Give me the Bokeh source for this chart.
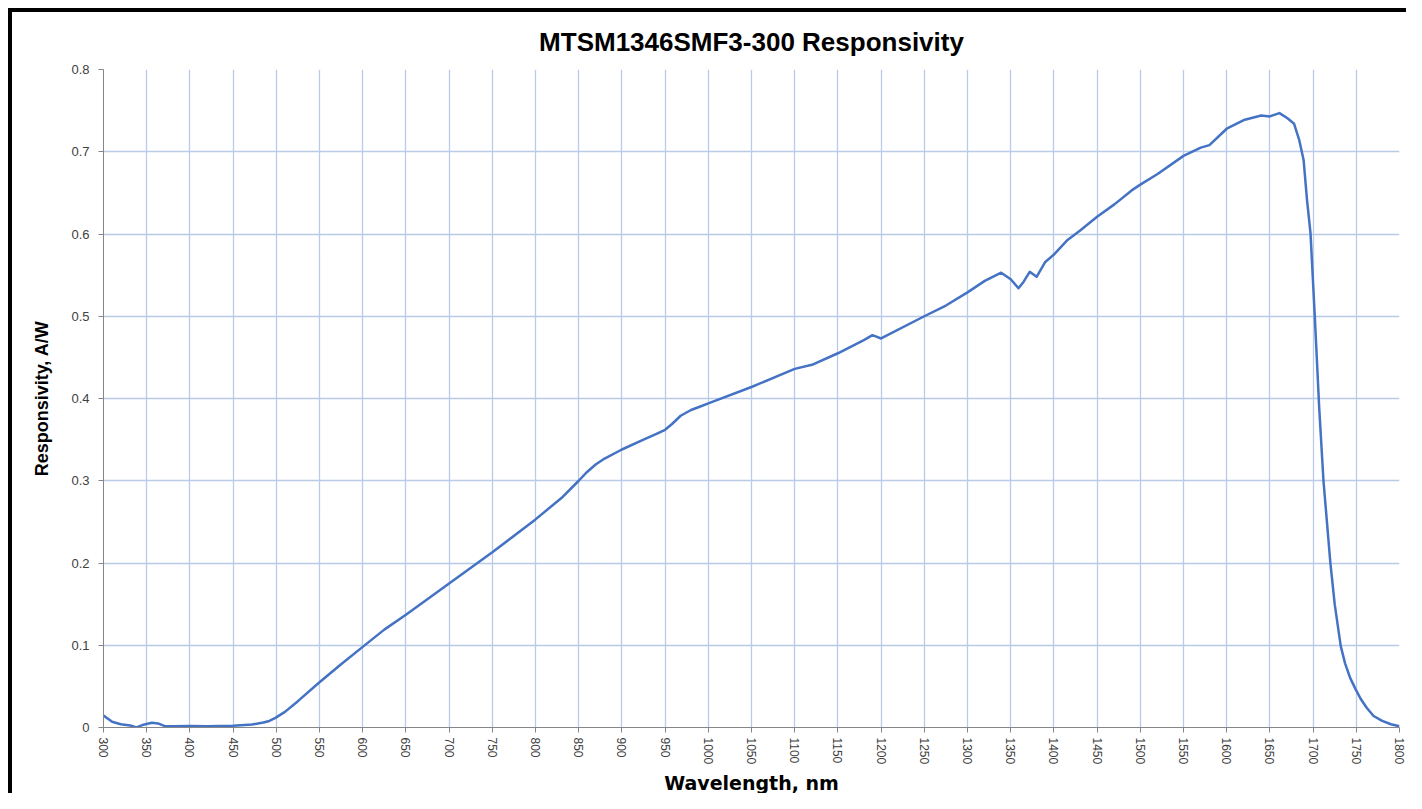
from bokeh.plotting import figure
from bokeh.models import FixedTicker, ColumnDataSource, Title
from bokeh.embed import file_html
from bokeh.resources import INLINE

wavelength = [300, 310, 320, 331, 338, 345, 356, 363, 371, 380, 400, 420, 450, 472, 485, 492, 499,
              510, 525, 550, 575, 600, 625, 650, 700, 750, 800, 830, 850, 860, 870, 880, 900, 925,
              940, 950, 958, 968, 980, 990, 1000, 1050, 1100, 1120, 1150, 1180, 1190, 1200, 1250,
              1275, 1300, 1320, 1339, 1350, 1359, 1365, 1372, 1380, 1390, 1400, 1415, 1430, 1450,
              1470, 1490, 1500, 1520, 1550, 1570, 1580, 1600, 1621, 1640, 1650, 1661, 1670, 1678,
              1684, 1689, 1693, 1697, 1702, 1707, 1712, 1720, 1725, 1732, 1737, 1743, 1749, 1755,
              1762, 1770, 1780, 1790, 1800]
responsivity = [0.0146, 0.007, 0.004, 0.0024, 0.0, 0.003, 0.0057, 0.005, 0.0016, 0.0015, 0.0018,
                0.0015, 0.002, 0.0036, 0.006, 0.008, 0.0117, 0.019, 0.032, 0.055, 0.077, 0.098,
                0.119, 0.137, 0.175, 0.213, 0.253, 0.279, 0.300, 0.311, 0.320, 0.327, 0.338, 0.350,
                0.357, 0.362, 0.369, 0.379, 0.386, 0.390, 0.394, 0.414, 0.436, 0.441, 0.455, 0.471,
                0.477, 0.473, 0.500, 0.513, 0.529, 0.543, 0.553, 0.545, 0.534, 0.542, 0.554, 0.548,
                0.566, 0.575, 0.592, 0.604, 0.621, 0.636, 0.653, 0.660, 0.673, 0.695, 0.705, 0.708,
                0.728, 0.739, 0.744, 0.743, 0.747, 0.741, 0.734, 0.714, 0.690, 0.641, 0.601, 0.499,
                0.390, 0.300, 0.200, 0.150, 0.099, 0.078, 0.060, 0.047, 0.035, 0.024, 0.014, 0.008,
                0.004, 0.0016]

x_ticks = list(range(300, 1801, 50))
y_ticks = [0, 0.1, 0.2, 0.3, 0.4, 0.5, 0.6, 0.7, 0.8]
y_labels = ["0", "0.1", "0.2", "0.3", "0.4", "0.5", "0.6", "0.7", "0.8"]

title_text = "MTSM1346SMF3-300 Responsivity"
x_label = "Wavelength, nm"
y_label = "Responsivity, A/W"

src = ColumnDataSource(dict(x=wavelength, y=responsivity))

p = figure(width=1398, height=785, output_backend="svg", toolbar_location=None,
           x_range=(300, 1800), y_range=(0, 0.8),
           min_border_left=91, min_border_right=11, min_border_top=57, min_border_bottom=67)
p.styles = {"margin-left": "8px", "margin-top": "8px",
            "border-top": "4px solid black", "border-left": "4px solid black"}

t = Title(text=title_text, align="center", text_font="Liberation Sans",
          text_font_size="26px", text_font_style="bold", text_color="#000000", standoff=25)
p.add_layout(t, "above")

p.line("x", "y", source=src, line_color="#4472C4", line_width=2.5, line_join="round")

p.outline_line_color = None
p.background_fill_color = "white"
p.border_fill_color = "white"

p.xaxis.ticker = FixedTicker(ticks=x_ticks)
p.yaxis.ticker = FixedTicker(ticks=y_ticks)
p.yaxis.major_label_overrides = {v: s for v, s in zip(y_ticks, y_labels)}
p.xaxis.major_label_orientation = "vertical"

for ax in (p.xaxis, p.yaxis):
    ax.axis_line_color = "#868686"
    ax.axis_line_width = 1
    ax.major_tick_line_color = "#868686"
    ax.major_tick_out = 5
    ax.major_tick_in = 0
    ax.minor_tick_line_color = None
    ax.major_label_text_font = "Liberation Sans"
    ax.major_label_text_color = "#404040"

p.xaxis.major_label_text_font_size = "12px"
p.xaxis.major_label_standoff = 5
p.yaxis.major_label_text_font_size = "13px"
p.yaxis.major_label_standoff = 9

p.xaxis.axis_label = x_label
p.xaxis.axis_label_text_font = "DejaVu Sans"
p.xaxis.axis_label_text_font_style = "bold"
p.xaxis.axis_label_text_font_size = "19px"
p.xaxis.axis_label_text_color = "#000000"
p.xaxis.axis_label_standoff = 5

p.yaxis.axis_label = y_label
p.yaxis.axis_label_text_font = "Liberation Sans"
p.yaxis.axis_label_text_font_style = "bold"
p.yaxis.axis_label_text_font_size = "18px"
p.yaxis.axis_label_text_color = "#000000"
p.yaxis.axis_label_standoff = 16

p.grid.grid_line_color = "#b9cbe8"
p.grid.grid_line_width = 1.3

open("out.html", "w").write(file_html(p, INLINE))
